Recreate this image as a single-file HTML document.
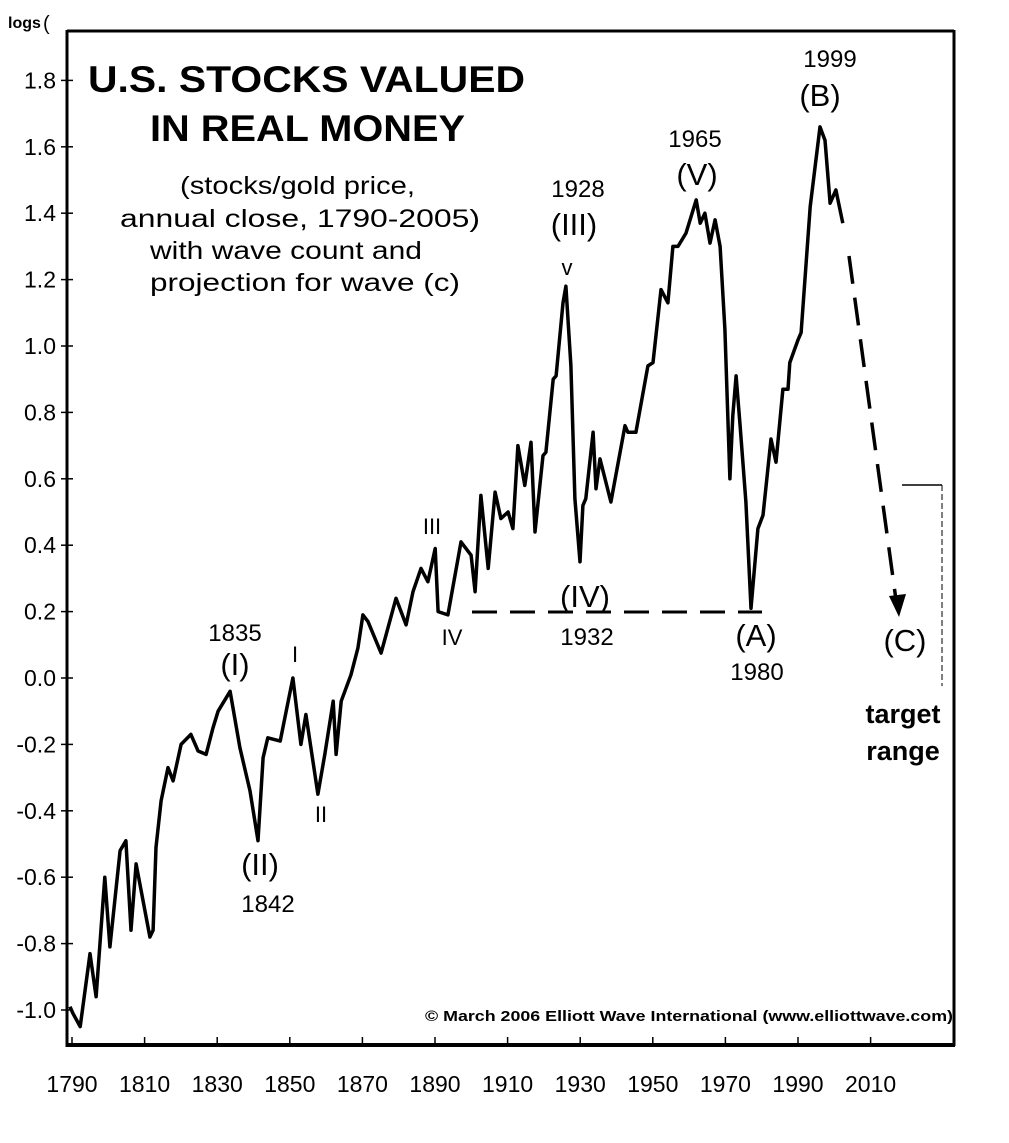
<!DOCTYPE html>
<html><head><meta charset="utf-8">
<style>
html,body{margin:0;padding:0;background:#fff;}
svg{display:block;}
text{font-family:"Liberation Sans",Arial,sans-serif;fill:#000;}
</style></head>
<body>
<svg id="chart" width="1009" height="1143" viewBox="0 0 1009 1143" xmlns="http://www.w3.org/2000/svg">
<g id="frame"></g>
<g id="axes"></g>
<g id="series"></g>
<g id="annot">
  <text x="8" y="28" font-size="16" font-weight="bold">logs</text>
  <text x="43" y="30" font-size="20">(</text>
  <rect x="80" y="55" width="450" height="40" fill="#fff"/>
  <text x="88" y="92" font-size="37" font-weight="bold" textLength="437" lengthAdjust="spacingAndGlyphs">U.S. STOCKS VALUED</text>
  <text x="150" y="141" font-size="37" font-weight="bold" textLength="315" lengthAdjust="spacingAndGlyphs">IN REAL MONEY</text>
  <text x="180" y="194" font-size="25" textLength="235" lengthAdjust="spacingAndGlyphs">(stocks/gold price,</text>
  <text x="120" y="227" font-size="25" textLength="360" lengthAdjust="spacingAndGlyphs">annual close, 1790-2005)</text>
  <text x="150" y="259" font-size="25" textLength="272" lengthAdjust="spacingAndGlyphs">with wave count and</text>
  <text x="150" y="291" font-size="25" textLength="310" lengthAdjust="spacingAndGlyphs">projection for wave (c)</text>

  <text x="235" y="641" font-size="24" text-anchor="middle">1835</text>
  <text x="235" y="675" font-size="31" text-anchor="middle">(I)</text>
  <text x="260" y="875" font-size="31" text-anchor="middle">(II)</text>
  <text x="268" y="912" font-size="24" text-anchor="middle">1842</text>
  <text x="295" y="662" font-size="22" text-anchor="middle">I</text>
  <text x="321" y="822" font-size="22" text-anchor="middle">II</text>
  <text x="432" y="534" font-size="22" text-anchor="middle">III</text>
  <text x="452" y="645" font-size="22" text-anchor="middle">IV</text>
  <text x="567" y="275" font-size="22" text-anchor="middle">v</text>
  <text x="578" y="197" font-size="24" text-anchor="middle">1928</text>
  <text x="574" y="235" font-size="31" text-anchor="middle">(III)</text>
  <text x="585" y="607" font-size="31" text-anchor="middle">(IV)</text>
  <text x="587" y="645" font-size="24" text-anchor="middle">1932</text>
  <text x="695" y="147" font-size="24" text-anchor="middle">1965</text>
  <text x="697" y="185" font-size="31" text-anchor="middle">(V)</text>
  <text x="830" y="67" font-size="24" text-anchor="middle">1999</text>
  <text x="820" y="106" font-size="31" text-anchor="middle">(B)</text>
  <text x="756" y="646" font-size="31" text-anchor="middle">(A)</text>
  <text x="757" y="680" font-size="24" text-anchor="middle">1980</text>
  <text x="905" y="651" font-size="31" text-anchor="middle">(C)</text>
  <text x="903" y="723" font-size="27" font-weight="bold" text-anchor="middle">target</text>
  <text x="903" y="760" font-size="27" font-weight="bold" text-anchor="middle">range</text>
  <text x="425" y="1021" font-size="15" font-weight="bold" textLength="528" lengthAdjust="spacingAndGlyphs">© March 2006 Elliott Wave International (www.elliottwave.com)</text>

  <line x1="472" y1="612" x2="762" y2="612" stroke="#000" stroke-width="3" stroke-dasharray="25,13"/>
  <line x1="849" y1="256" x2="896" y2="600" stroke="#000" stroke-width="3.5" stroke-dasharray="28,14"/>
  <polygon points="889,596 906,594 899,617" fill="#000"/>
  <line x1="902" y1="485" x2="942" y2="485" stroke="#000" stroke-width="1.5"/>
  <line x1="942" y1="485" x2="942" y2="686" stroke="#000" stroke-width="1" stroke-dasharray="6,3"/>
</g>
<script>
const years=[1790,1790.8,1792.8,1795.5,1797.2,1799.6,1801,1803.8,1805.4,1806.8,1808.2,1812,1812.9,1813.7,1815.1,1817,1818.4,1820.6,1823.3,1825.3,1827.5,1829.4,1830.8,1834.1,1836.8,1839.6,1841.8,1843.2,1844.5,1847.9,1850.1,1851.4,1853.6,1855,1858.3,1860.2,1862.5,1863.3,1864.7,1867.4,1869.3,1870.7,1872.1,1875.7,1879.8,1882.6,1884.5,1886.7,1888.6,1890.6,1891.4,1894.1,1897.7,1900.5,1901.6,1903.2,1905.2,1907.1,1908.7,1910.7,1912,1913.4,1915.3,1917,1918.1,1920.3,1921.1,1923.1,1923.9,1925.8,1926.6,1928,1929.1,1930.5,1931.3,1932.1,1934.1,1934.9,1936,1939,1942.9,1943.7,1945.9,1949.2,1950.6,1952.8,1954.7,1956.1,1957.5,1959.7,1962.5,1963.6,1964.9,1966.3,1967.7,1969.1,1970.4,1971.8,1972.6,1973.5,1974.6,1976.2,1977.6,1979.5,1980.9,1983.1,1984.5,1986.4,1987.8,1988.3,1990.6,1991.4,1993.9,1996.6,1998,1999.4,2001,2002.9];
const values=[-0.99,-1.01,-1.05,-0.83,-0.96,-0.60,-0.81,-0.52,-0.49,-0.76,-0.56,-0.78,-0.76,-0.51,-0.37,-0.27,-0.31,-0.20,-0.17,-0.22,-0.23,-0.15,-0.10,-0.04,-0.21,-0.34,-0.49,-0.24,-0.18,-0.19,-0.07,0.00,-0.20,-0.11,-0.35,-0.23,-0.07,-0.23,-0.07,0.01,0.09,0.19,0.17,0.075,0.24,0.16,0.26,0.33,0.29,0.39,0.20,0.19,0.41,0.37,0.26,0.55,0.33,0.56,0.48,0.50,0.45,0.70,0.58,0.71,0.44,0.67,0.68,0.90,0.91,1.13,1.18,0.94,0.54,0.35,0.52,0.54,0.74,0.57,0.66,0.53,0.76,0.74,0.74,0.94,0.95,1.17,1.13,1.30,1.30,1.34,1.44,1.37,1.40,1.31,1.38,1.30,1.05,0.60,0.79,0.91,0.76,0.53,0.21,0.45,0.49,0.72,0.65,0.87,0.87,0.95,1.02,1.04,1.42,1.66,1.62,1.43,1.47,1.37];
const yTicks=[-1.0,-0.8,-0.6,-0.4,-0.2,0.0,0.2,0.4,0.6,0.8,1.0,1.2,1.4,1.6,1.8];
const yTickLabels=["-1.0","-0.8","-0.6","-0.4","-0.2","0.0","0.2","0.4","0.6","0.8","1.0","1.2","1.4","1.6","1.8"];
const xTicks=[1790,1810,1830,1850,1870,1890,1910,1930,1950,1970,1990,2010];
const xTickLabels=["1790","1810","1830","1850","1870","1890","1910","1930","1950","1970","1990","2010"];

const NS="http://www.w3.org/2000/svg";
const X0=70, PXY=3.63, Y0=678, PXV=332;
function xScale(yr){return X0+(yr-1790)*PXY;}
function yScale(v){return Y0-v*PXV;}
function mk(tag,attrs,parent){const e=document.createElementNS(NS,tag);for(const k in attrs)e.setAttribute(k,attrs[k]);parent.appendChild(e);return e;}

const frameG=document.getElementById('frame');
const frameTop=mk('line',{x1:67,y1:31,x2:954,y2:31,stroke:'#000','stroke-width':3},frameG);


const frameRight=mk('line',{x1:954,y1:30,x2:954,y2:1046,stroke:'#000','stroke-width':3},frameG);



const axesG=document.getElementById('axes');
const ya=mk('line',{x1:67,y1:30,x2:67,y2:1047,stroke:'#000','stroke-width':3},axesG);


const xa=mk('line',{x1:66,y1:1045,x2:955,y2:1045,stroke:'#000','stroke-width':4},axesG);


yTicks.forEach((v,i)=>{
  const y=yScale(v);
  const t=mk('line',{x1:61,y1:y,x2:73,y2:y,stroke:'#000','stroke-width':1.5},axesG);
  
  
  const l=mk('text',{x:56,y:y+8,'font-size':23,'text-anchor':'end'},axesG);
  l.textContent=yTickLabels[i];
  
  
});
xTicks.forEach((yr,i)=>{
  const x=xScale(yr)+2;
  const t=mk('line',{x1:x,y1:1037,x2:x,y2:1046,stroke:'#000','stroke-width':1.5},axesG);
  
  
  const l=mk('text',{x:x,y:1092,'font-size':23,'text-anchor':'middle'},axesG);
  l.textContent=xTickLabels[i];
  
  
});

const seriesG=document.getElementById('series');
const pathD=years.map((yr,i)=>(i?'L':'M')+xScale(yr).toFixed(1)+','+yScale(values[i]).toFixed(1)).join(' ');
const linePath=mk('path',{d:pathD,fill:'none',stroke:'#000','stroke-width':3.5,'stroke-linejoin':'round'},seriesG);


</script>
</svg>
</body></html>
